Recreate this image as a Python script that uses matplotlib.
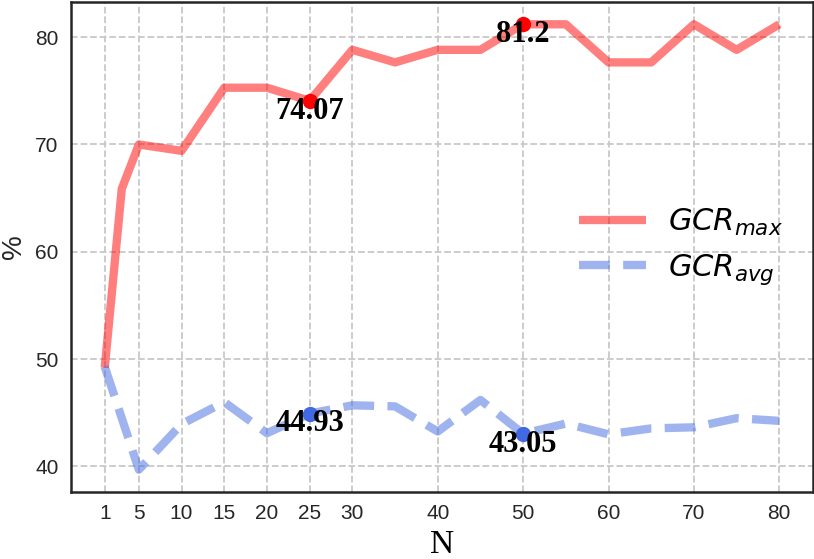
import matplotlib
matplotlib.use("Agg")
import matplotlib.pyplot as plt

# data
n_max = [1, 3, 5, 10, 15, 20, 25, 30, 35, 40, 45, 50, 55, 60, 65, 70, 75, 80]
gcr_max = [49.2, 65.88, 70.0, 69.41, 75.29, 75.29, 74.07, 78.82, 77.65, 78.82,
           78.82, 81.2, 81.2, 77.65, 77.65, 81.2, 78.82, 81.2]
n_avg = [1, 5, 10, 15, 20, 25, 30, 35, 40, 45, 50, 55, 60, 65, 70, 75, 80]
gcr_avg = [49.3, 39.7, 43.95, 46.0, 43.1, 44.93, 45.7, 45.6, 43.26, 46.2,
           43.05, 44.0, 43.0, 43.55, 43.65, 44.5, 44.25]
xticks = [1, 5, 10, 15, 20, 25, 30, 40, 50, 60, 70, 80]
yticks = [40, 50, 60, 70, 80]
marked_n = [25, 50]
marked_max = [74.07, 81.2]
marked_avg = [44.93, 43.05]

fig = plt.figure(figsize=(8.14, 5.59), dpi=100)
ax = fig.add_axes([0.0872, 0.1199, 0.9116, 0.8765])

ax.plot(n_max, gcr_max, color="red", alpha=0.5, lw=6, label=r"$GCR_{max}$",
        solid_capstyle="butt", zorder=3)
ax.plot(n_avg, gcr_avg, color="royalblue", alpha=0.5, lw=6, ls="--",
        label=r"$GCR_{avg}$", zorder=3)

ax.plot(marked_n, marked_max, "o", color="red", ms=10, zorder=4)
ax.plot(marked_n, marked_avg, "o", color="royalblue", ms=10, zorder=4)
for xs, ys in [(marked_n, marked_max), (marked_n, marked_avg)]:
    for x, y in zip(xs, ys):
        ax.annotate(str(y), (x, y), xytext=(0, 3), textcoords="offset points",
                    ha="center", va="top", fontsize=22, fontweight="bold",
                    family="Liberation Serif", color="black", zorder=5)

ax.set_xticks(xticks)
ax.set_yticks(yticks)
ax.tick_params(length=0, labelsize=15, labelcolor="#262626", pad=9)
for lab in ax.get_xticklabels() + ax.get_yticklabels():
    lab.set_family("Liberation Sans")

ax.grid(True, ls="--", color="#c8c8c8", lw=1.3, zorder=0)
ax.set_axisbelow(True)
for sp in ax.spines.values():
    sp.set_color("#262626")
    sp.set_linewidth(1.8)

ax.set_xlabel("N", fontsize=24, family="Liberation Serif", labelpad=4)
ax.set_ylabel("%", fontsize=20, family="Liberation Sans", color="#262626",
              labelpad=6)

ax.legend(loc="center right", frameon=False, fontsize=22, handlelength=2.2,
          handletextpad=0.7, borderaxespad=0.6, labelspacing=0.45)

fig.savefig("out.png", dpi=100)
